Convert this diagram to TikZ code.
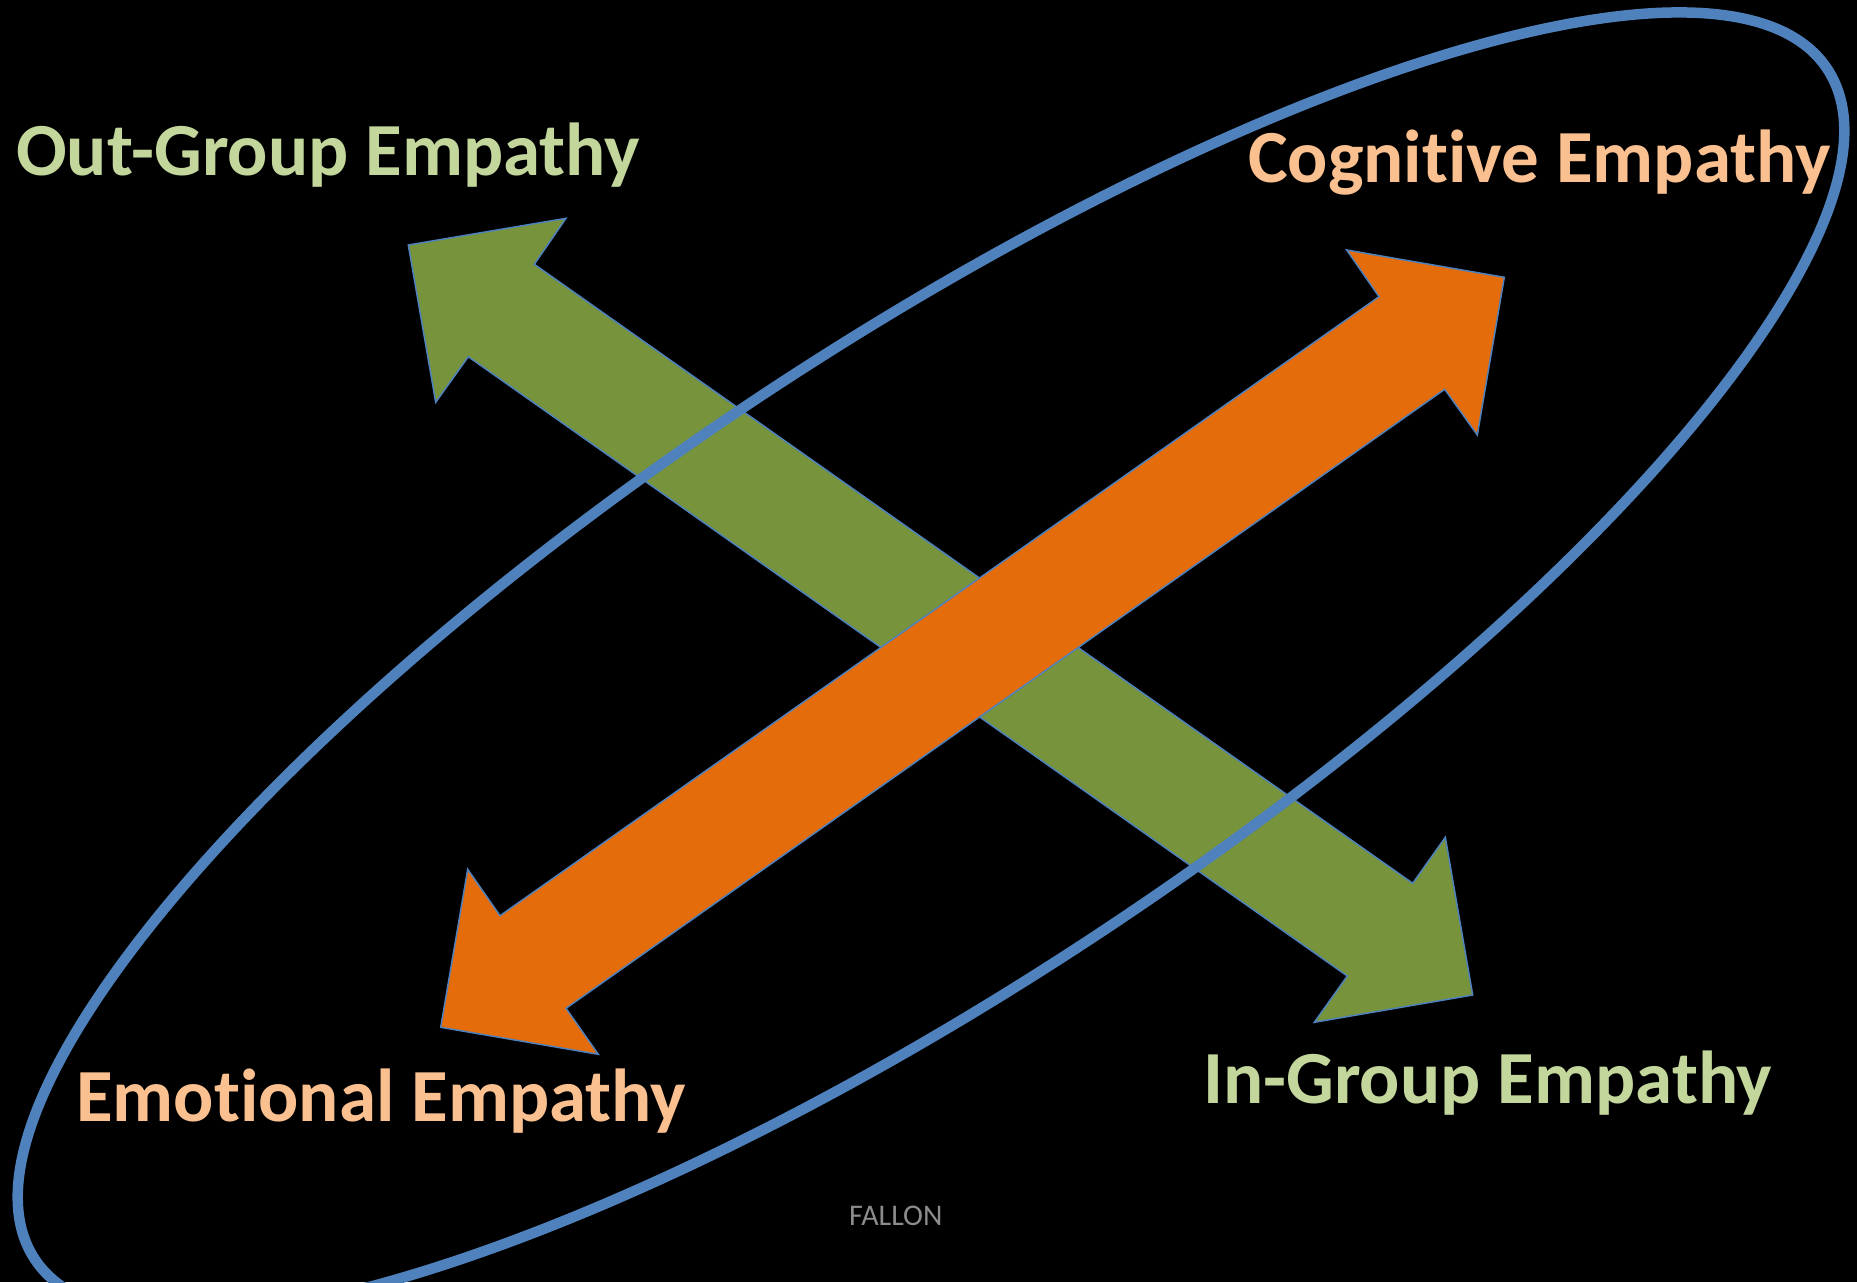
\documentclass[tikz,border=0pt]{standalone}
\usepackage{fontspec}
\setmainfont{Carlito}[Ligatures=NoCommon]
\definecolor{edgeblue}{HTML}{4F81BD}
\definecolor{arrowgreen}{HTML}{77933C}
\definecolor{arroworange}{HTML}{E46C0A}
\definecolor{labelgreen}{HTML}{C3D69B}
\definecolor{labelorange}{HTML}{FAC090}
\definecolor{footgray}{HTML}{8C8C8C}
\begin{document}
\begin{tikzpicture}[x=1pt,y=-1pt]
\tikzset{
  outline/.style={draw=edgeblue, line width=1.5pt, line join=miter},
  greenarrow/.style={outline, fill=arrowgreen},
  orangearrow/.style={outline, fill=arroworange},
  ring/.style={draw=edgeblue, line width=10.5pt},
  title/.style={font=\fontsize{75}{80}\selectfont\bfseries, inner sep=0pt},
  footer/.style={font=\fontsize{30}{34}\selectfont, text=footgray, inner sep=0pt, anchor=base west},
}
% black slide background
\fill[black] (0,0) rectangle (1857,1282);
\useasboundingbox (0,0) rectangle (1857,1282);
\clip (0,0) rectangle (1857,1282);

% out-group / in-group double arrow
\filldraw[greenarrow]
  (408.3,245) -- (566,218.3) -- (534.3,264.3) -- (1412.7,883.3)
  -- (1445.3,837.3) -- (1472.7,995) -- (1314.3,1022.3) -- (1347.3,976)
  -- (468.3,356.7) -- (435.7,402.3) -- cycle;

% cognitive / emotional double arrow
\filldraw[orangearrow]
  (1504.3,277.3) -- (1477.3,435) -- (1444.7,389.3) -- (566,1008.3)
  -- (598.3,1054.3) -- (440.7,1027.3) -- (467.7,869.3) -- (500,915.7)
  -- (1379,296.7) -- (1346.7,250) -- cycle;

% tilted ellipse around the cognitive/emotional axis
\draw[ring, rotate around={33.6:(931,664)}]
  (931,664) ellipse [x radius=1075.9pt, y radius=317.4pt];

% labels
\node[title, text=labelgreen, anchor=base west] (outgroup) at (16,175) {Out-Group Empathy};
\node[title, text=labelorange, anchor=base east] (cognitive) at (1831,182) {Cognitive Empathy};
\node[title, text=labelorange, anchor=base west] (emotional) at (76,1121) {Emotional Empathy};
\node[title, text=labelgreen, anchor=base west] (ingroup) at (1203,1103) {In-Group Empathy};
\node[footer] (fallon) at (849,1225) {FALLON};
\end{tikzpicture}
\end{document}
